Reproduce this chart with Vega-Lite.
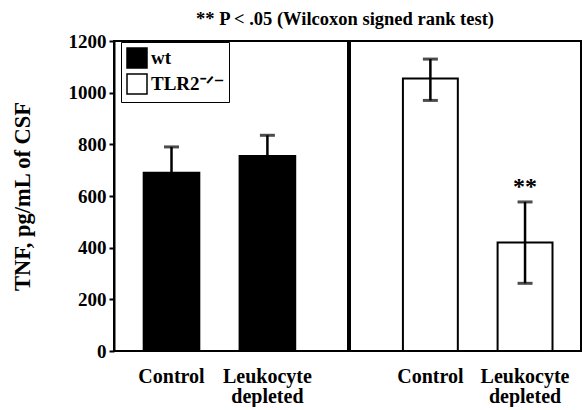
{
  "$schema": "https://vega.github.io/schema/vega-lite/v6.json",
  "background": "white",
  "padding": {"left": 10, "top": 9, "right": 0, "bottom": 0},
  "datasets": {
    "tnf": [
      {"panel": "wt", "genotype": "wt", "condition": "Control", "value": 690, "lower": 590, "upper": 790, "sig": ""},
      {"panel": "wt", "genotype": "wt", "condition": "Leukocyte depleted", "value": 755, "lower": 675, "upper": 835, "sig": ""},
      {"panel": "tlr", "genotype": "TLR2⁻ᐟ⁻", "condition": "Control", "value": 1055, "lower": 970, "upper": 1130, "sig": ""},
      {"panel": "tlr", "genotype": "TLR2⁻ᐟ⁻", "condition": "Leukocyte depleted", "value": 420, "lower": 262, "upper": 577, "sig": "**"}
    ]
  },
  "title": {
    "text": "** P < .05 (Wilcoxon signed rank test)",
    "font": "Liberation Serif",
    "fontSize": 18.5,
    "fontWeight": "bold",
    "color": "black",
    "anchor": "middle",
    "dx": 49,
    "offset": 3
  },
  "spacing": 0,
  "resolve": {"legend": {"fill": "independent"}},
  "hconcat": [
    {
      "width": 234,
      "height": 310,
      "data": {"name": "tnf"},
      "transform": [{"filter": "datum.panel == 'wt'"}],
      "encoding": {
        "x": {
          "field": "condition",
          "type": "nominal",
          "sort": ["Control", "Leukocyte depleted"],
          "scale": {"paddingInner": 0.42, "paddingOuter": 0.43, "align": 0.36},
          "axis": {
            "title": null,
            "ticks": false,
            "domain": false,
            "labelAngle": 0,
            "labelFontSize": 20,
            "labelPadding": 15,
            "labelLineHeight": 20,
            "labelExpr": "datum.value == 'Control' ? 'Control' : ['Leukocyte', 'depleted']"
          }
        }
      },
      "layer": [
        {
          "mark": {"type": "bar", "stroke": "black", "strokeWidth": 2},
          "encoding": {
            "y": {
              "field": "value",
              "type": "quantitative",
              "scale": {"domain": [0, 1200]},
              "axis": {
                "title": "TNF, pg/mL of CSF",
                "values": [0, 200, 400, 600, 800, 1000, 1200],
                "format": "d",
                "grid": false,
                "tickSize": 5,
                "tickWidth": 2,
                "domainWidth": 2,
                "labelFontSize": 19,
                "labelPadding": 3,
                "titleFontSize": 22.5,
                "titlePadding": 34
              }
            },
            "fill": {
              "field": "genotype",
              "type": "nominal",
              "scale": {"domain": ["wt", "TLR2⁻ᐟ⁻"], "range": ["black", "white"]},
              "legend": {
                "title": null,
                "orient": "none",
                "legendX": 7,
                "legendY": 1,
                "symbolType": "square",
                "symbolSize": 400,
                "symbolStrokeColor": "black",
                "symbolStrokeWidth": 1.5,
                "labelFont": "Liberation Serif",
                "labelFontWeight": "bold",
                "labelFontSize": 19,
                "labelColor": "black",
                "labelOffset": 3,
                "strokeColor": "black",
                "fillColor": "white",
                "padding": 5,
                "rowPadding": 0
              }
            }
          }
        },
        {
          "mark": {"type": "rule", "strokeWidth": 2.5, "color": "black"},
          "encoding": {"y": {"field": "lower", "type": "quantitative"}, "y2": {"field": "upper"}}
        },
        {
          "mark": {"type": "tick", "thickness": 3, "size": 15, "color": "black"},
          "encoding": {"y": {"field": "upper", "type": "quantitative"}}
        },
        {
          "mark": {"type": "tick", "thickness": 3, "size": 15, "color": "black"},
          "encoding": {"y": {"field": "lower", "type": "quantitative"}}
        }
      ]
    },
    {
      "width": 231,
      "height": 310,
      "data": {"name": "tnf"},
      "transform": [{"filter": "datum.panel == 'tlr'"}],
      "encoding": {
        "x": {
          "field": "condition",
          "type": "nominal",
          "sort": ["Control", "Leukocyte depleted"],
          "scale": {"paddingInner": 0.42, "paddingOuter": 0.43, "align": 0.65},
          "axis": {
            "title": null,
            "ticks": false,
            "domain": false,
            "labelAngle": 0,
            "labelFontSize": 20,
            "labelPadding": 15,
            "labelLineHeight": 20,
            "labelExpr": "datum.value == 'Control' ? 'Control' : ['Leukocyte', 'depleted']"
          }
        }
      },
      "layer": [
        {
          "mark": {"type": "bar", "stroke": "black", "strokeWidth": 2},
          "encoding": {
            "y": {"field": "value", "type": "quantitative", "scale": {"domain": [0, 1200]}, "axis": null},
            "fill": {
              "field": "genotype",
              "type": "nominal",
              "scale": {"domain": ["wt", "TLR2⁻ᐟ⁻"], "range": ["black", "white"]},
              "legend": null
            }
          }
        },
        {
          "mark": {"type": "rule", "strokeWidth": 2.5, "color": "black"},
          "encoding": {"y": {"field": "lower", "type": "quantitative"}, "y2": {"field": "upper"}}
        },
        {
          "mark": {"type": "tick", "thickness": 3, "size": 15, "color": "black"},
          "encoding": {"y": {"field": "upper", "type": "quantitative"}}
        },
        {
          "mark": {"type": "tick", "thickness": 3, "size": 15, "color": "black"},
          "encoding": {"y": {"field": "lower", "type": "quantitative"}}
        },
        {
          "mark": {"type": "text", "font": "Liberation Serif", "fontWeight": "bold", "fontSize": 24, "color": "black", "dy": -15},
          "encoding": {"y": {"field": "upper", "type": "quantitative"}, "text": {"field": "sig"}}
        }
      ]
    }
  ],
  "config": {
    "font": "Liberation Serif",
    "view": {"stroke": "black", "strokeWidth": 2},
    "axis": {
      "labelFont": "Liberation Serif",
      "labelFontWeight": "bold",
      "labelColor": "black",
      "titleFont": "Liberation Serif",
      "titleFontWeight": "bold",
      "titleColor": "black",
      "domainColor": "black",
      "tickColor": "black"
    }
  }
}
